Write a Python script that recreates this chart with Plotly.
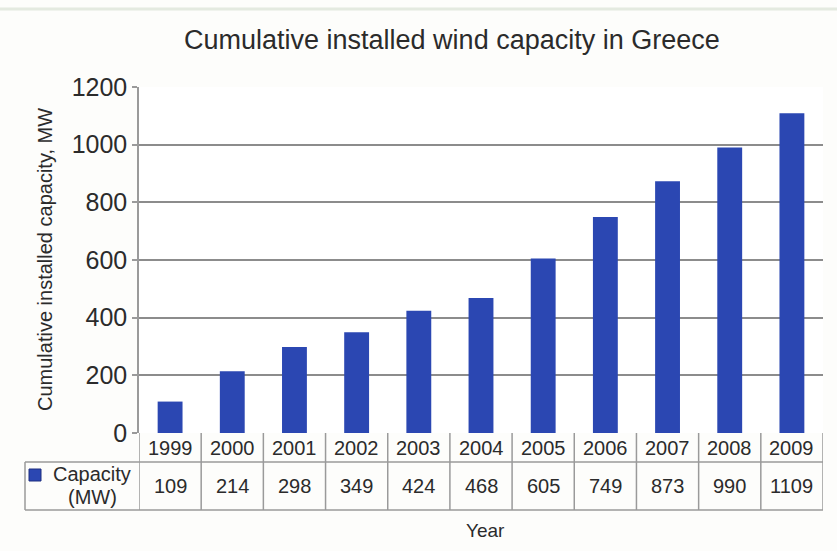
import plotly.graph_objects as go

# Data
years = ["1999", "2000", "2001", "2002", "2003", "2004", "2005", "2006", "2007", "2008", "2009"]
capacity_mw = [109, 214, 298, 349, 424, 468, 605, 749, 873, 990, 1109]
y_ticks = [0, 200, 400, 600, 800, 1000, 1200]

W, H = 837, 551
L, R, T, B = 139, 14, 87, 118
PH = H - T - B
PW = W - L - R

BAR = "#2b47b2"
TXT = "#2b2b2b"
LINE = "#9a9a9a"
FONT = "Liberation Sans, Arial, sans-serif"


def py(p):
    """Pixel row -> paper y."""
    return (H - B - p) / PH


def px(p):
    """Pixel column -> paper x."""
    return (p - L) / PW


def label(x, y, text, size, xref="paper", angle=0):
    return dict(x=x, y=y, xref=xref, yref="paper", text=text, textangle=angle,
                xanchor="center", yanchor="middle", showarrow=False,
                font=dict(size=size, color=TXT, family=FONT))


fig = go.Figure()
fig.add_trace(go.Bar(
    x=list(range(len(years))), y=capacity_mw, width=0.4,
    marker=dict(color=BAR, line=dict(width=0)),
    showlegend=False, hoverinfo="x+y",
))

shapes = []
annotations = []

# data table below the plot
row1_bottom = py(462)
table_bottom = py(510)
n = len(years)
for k in range(n + 1):
    shapes.append(dict(type="line", xref="x", yref="paper",
                       x0=k - 0.5, x1=k - 0.5, y0=0, y1=table_bottom,
                       line=dict(color=LINE, width=1.5)))
for yy in (row1_bottom, table_bottom):
    shapes.append(dict(type="line", xref="paper", yref="paper",
                       x0=px(25), x1=1.0, y0=yy, y1=yy,
                       line=dict(color=LINE, width=1.5)))
shapes.append(dict(type="line", xref="paper", yref="paper",
                   x0=px(25), x1=px(25), y0=row1_bottom, y1=table_bottom,
                   line=dict(color=LINE, width=1.5)))
# legend key
shapes.append(dict(type="rect", xref="paper", yref="paper",
                   x0=px(29), x1=px(41), y0=py(469), y1=py(481),
                   fillcolor=BAR, line=dict(color="#1f2f80", width=1)))
# faint rule along the top edge
shapes.append(dict(type="line", xref="paper", yref="paper",
                   x0=-L / PW, x1=1 + R / PW, y0=py(9), y1=py(9),
                   line=dict(color="#e4eae0", width=3)))

for i, (yr, v) in enumerate(zip(years, capacity_mw)):
    annotations.append(label(i, py(448), yr, 20, xref="x"))
    annotations.append(label(i, py(486), str(v), 20, xref="x"))

annotations.append(label(px(92), py(474), "Capacity", 20))
annotations.append(label(px(92), py(497), "(MW)", 20))
annotations.append(label(px(485), py(530), "Year", 19))
annotations.append(label(px(45), py(260), "Cumulative installed capacity, MW", 20, angle=-90))
annotations.append(label(px(452), py(40), "Cumulative installed wind capacity in Greece", 27))

fig.update_layout(
    width=W, height=H,
    margin=dict(l=L, r=R, t=T, b=B),
    paper_bgcolor="#fdfdfb", plot_bgcolor="#ffffff",
    shapes=shapes, annotations=annotations,
    bargap=0.6,
)
fig.update_xaxes(range=[-0.5, n - 0.5], showticklabels=False, showgrid=False,
                 zeroline=False, showline=False, ticks="", fixedrange=True)
fig.update_yaxes(range=[0, 1200], tickvals=y_ticks, showgrid=True,
                 gridcolor="#8c8c8c", gridwidth=1.5, zeroline=False,
                 showline=True, linecolor=LINE, linewidth=1.5,
                 ticks="outside", ticklen=5, tickcolor=LINE, tickwidth=1.5,
                 tickfont=dict(size=25, color=TXT, family=FONT), fixedrange=True)

fig.write_html("out.html")
